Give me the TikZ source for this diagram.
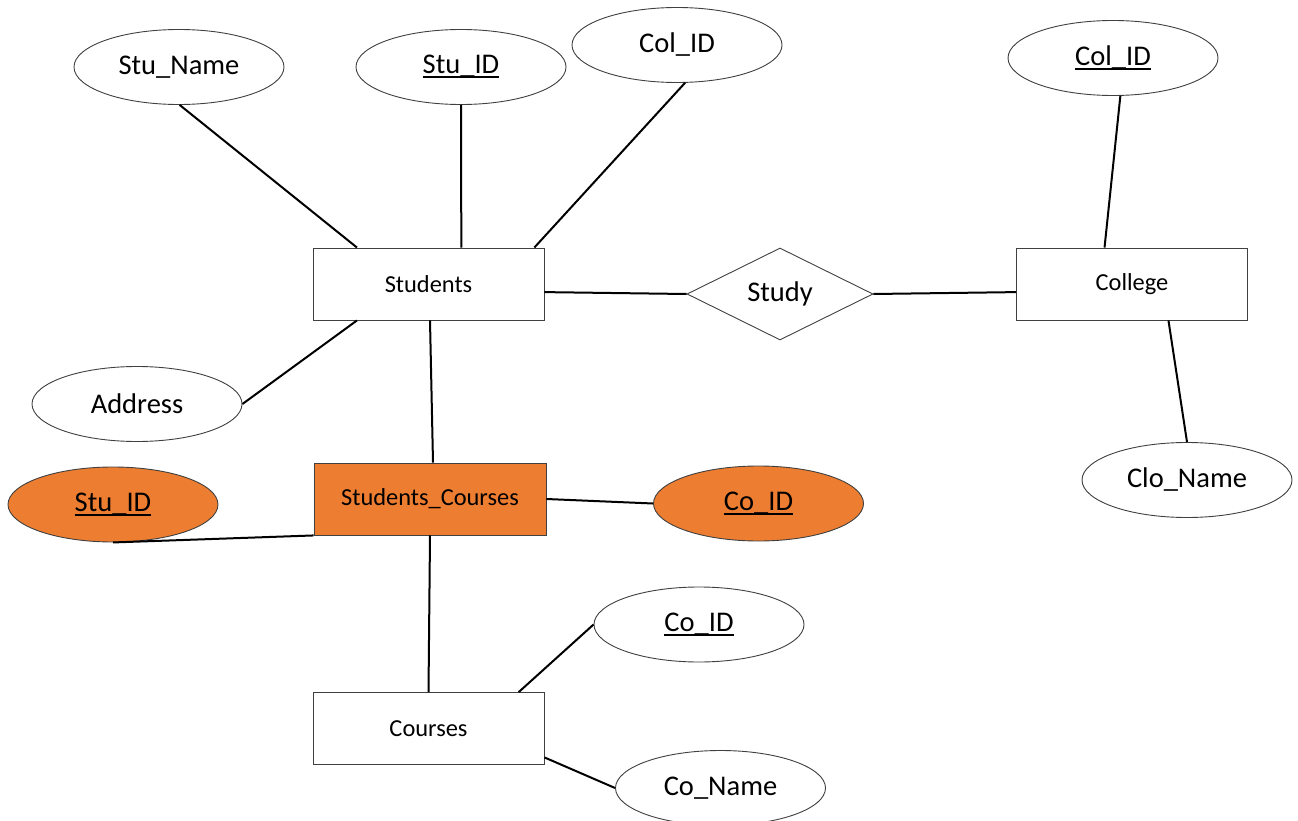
\documentclass[tikz,border=0pt]{standalone}
\usepackage{fontspec}
\setmainfont{Carlito}
\usetikzlibrary{shapes.geometric}
\definecolor{orng}{HTML}{ED7D31}
\definecolor{edge}{HTML}{404040}
\newcommand\keyul[1]{\setbox0\hbox{#1}\rlap{\raisebox{-4.5pt}{\rule{\wd0}{2.2pt}}}\box0}
\tikzset{
  attr/.style={ellipse, draw=edge, line width=0.9pt, fill=white, minimum width=210pt, minimum height=75pt, inner sep=0pt, font=\fontsize{28.5}{32}\selectfont},
  ent/.style={rectangle, draw=edge, line width=0.9pt, fill=white, minimum width=231pt, minimum height=72pt, inner sep=0pt, font=\fontsize{24.4}{28}\selectfont},
  rel/.style={diamond, draw=edge, line width=0.9pt, fill=white, minimum width=186pt, minimum height=92pt, inner sep=0pt, aspect=2, font=\fontsize{28.5}{32}\selectfont},
  conn/.style={draw=black, line width=2pt},
  hl/.style={fill=orng}
}
\begin{document}
\begin{tikzpicture}[x=1pt,y=-1pt]
\useasboundingbox (0,0) rectangle (1298,821);
% entities
\node[ent] (students) at (428.5,284) {Students};
\node[ent] (college) at (1132,284) {College};
\node[ent,hl,minimum width=232pt] (sc) at (430,499) {Students\_Courses};
\node[ent] (courses) at (428.5,728.5) {Courses};
\node[rel] (study) at (780,294) {Study};
% attributes
\node[attr] (stuname) at (179,67) {Stu\_Name};
\node[attr] (stuid) at (461,67) {\keyul{Stu\_ID}};
\node[attr] (colid) at (677,45) {Col\_ID};
\node[attr] (colidk) at (1113,58) {\keyul{Col\_ID}};
\node[attr] (address) at (137,404) {Address};
\node[attr] (cloname) at (1187,480) {Clo\_Name};
\node[attr,hl] (scstuid) at (113,504.5) {\keyul{Stu\_ID}};
\node[attr,hl] (sccoid) at (758.5,503.5) {\keyul{Co\_ID}};
\node[attr] (coid) at (699,624.5) {\keyul{Co\_ID}};
\node[attr] (coname) at (720.5,788) {Co\_Name};
% connectors
\draw[conn] (stuname.-89) -- (students.153);
\draw[conn] (stuid.south) -- (students.48.3);
\draw[conn] (colid.-78) -- (students.19.1);
\draw[conn] (students.-4.5) -- (study.west);
\draw[conn] (study.east) -- (college.184.5);
\draw[conn] (college.127) -- (colidk.-79);
\draw[conn] (college.-45.8) -- (cloname.north);
\draw[conn] (students.-153) -- (address.east);
\draw[conn] ([xshift=1.5pt]students.south) -- ([xshift=3pt]sc.north);
\draw[conn] (scstuid.south) -- (sc.south west);
\draw[conn] (sc.east) -- (sccoid.180);
\draw[conn] (sc.south) -- (courses.north);
\draw[conn] (courses.22.7) -- (coid.west);
\draw[conn] (courses.-14) -- (coname.west);
\end{tikzpicture}
\end{document}
